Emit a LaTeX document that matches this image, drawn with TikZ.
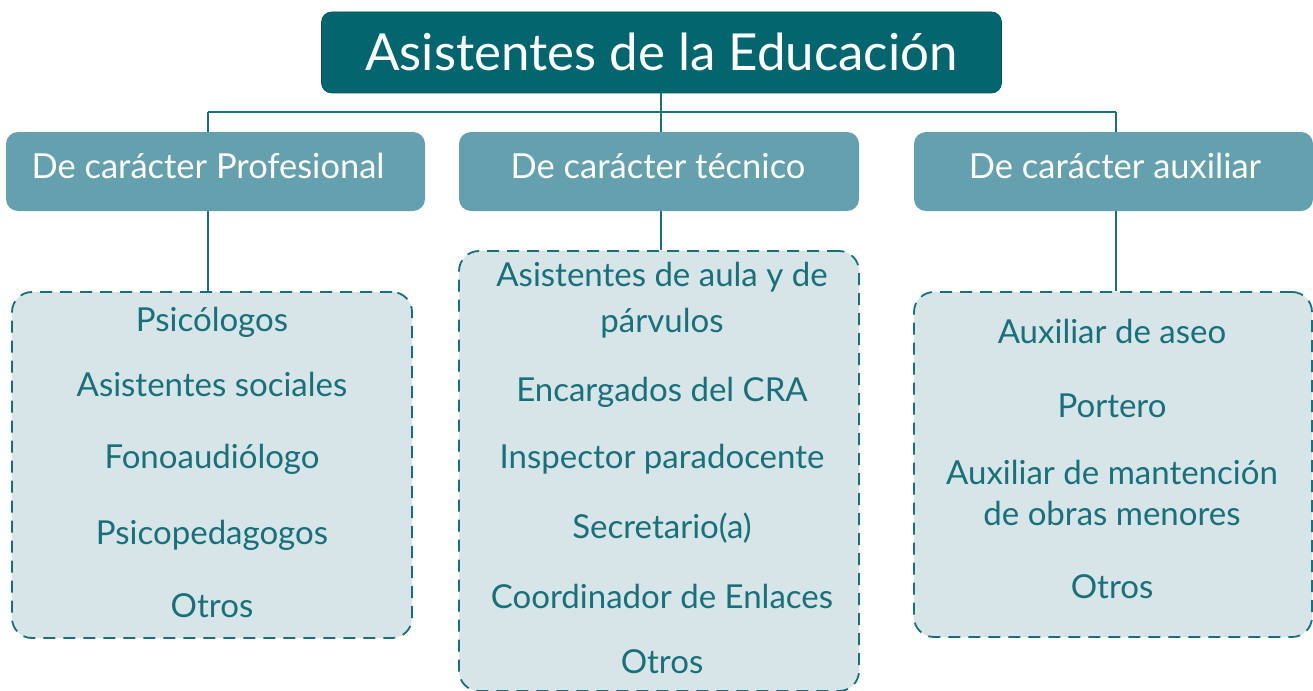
\documentclass[tikz,border=0pt]{standalone}
\usepackage{fontspec}
\setmainfont{Lato}
\definecolor{darkteal}{HTML}{03666F}
\definecolor{midteal}{HTML}{64A0AD}
\definecolor{paleteal}{HTML}{D7E4E8}
\definecolor{inkteal}{HTML}{17707A}
\begin{document}
\begin{tikzpicture}[x=1pt,y=-1pt,
  titlebox/.style={rectangle,rounded corners=10pt,fill=darkteal,draw=darkteal!80!black,line width=0.6pt,minimum width=680pt,minimum height=81pt},
  catbox/.style={rectangle,rounded corners=12pt,fill=midteal,minimum width=400pt,minimum height=79pt},
  listbox/.style={rectangle,rounded corners=20pt,fill=paleteal,draw=inkteal,line width=1.8pt,dash pattern=on 12pt off 8pt,minimum width=400pt},
  titletext/.style={text=white,font=\fontsize{51}{56}\selectfont,inner sep=0pt},
  cattext/.style={text=white,font=\fontsize{34.5}{40}\selectfont,inner sep=0pt},
  item/.style={text=inkteal,font=\fontsize{33}{40}\selectfont,align=center,inner sep=0pt},
  link/.style={draw=inkteal,line width=1.3pt}]
\path[use as bounding box] (0,0) rectangle (1313,690);
% boxes
\node[titlebox] (title) at (661.5,52.5) {};
\node[catbox,minimum width=419pt] (cp) at (215.5,171.5) {};
\node[catbox] (ct) at (659,171.5) {};
\node[catbox,minimum width=399pt] (ca) at (1113.5,171.5) {};
\node[listbox,minimum height=346pt] (lp) at (212,465) {};
\node[listbox,minimum height=440pt] (lt) at (659,471) {};
\node[listbox,minimum width=398pt,minimum height=345pt] (la) at (1113,464.5) {};
% headings
\node[titletext] (titlet) at (661.5,52) {Asistentes de la Educación};
\node[cattext] (cpt) at (208,166) {De carácter Profesional};
\node[cattext] (ctt) at (658,166) {De carácter técnico};
\node[cattext] (cat) at (1115,166) {De carácter auxiliar};
% items
\node[item] (p1) at (212,322) {Psicólogos};
\node[item] (p2) at (212,384) {Asistentes sociales};
\node[item] (p3) at (212,459) {Fonoaudiólogo};
\node[item] (p4) at (212,535) {Psicopedagogos};
\node[item] (p5) at (212,606) {Otros};
\node[item,font=\fontsize{33}{46}\selectfont] (t1) at (662,300) {Asistentes de aula y de\\ párvulos};
\node[item] (t2) at (662,392) {Encargados del CRA};
\node[item] (t3) at (662,459) {Inspector paradocente};
\node[item] (t4) at (662,528) {Secretario(a)};
\node[item] (t5) at (662,596) {Coordinador de Enlaces};
\node[item] (t6) at (662,662) {Otros};
\node[item] (a1) at (1112,331) {Auxiliar de aseo};
\node[item] (a2) at (1112,406) {Portero};
\node[item,font=\fontsize{33}{41}\selectfont] (a3) at (1112,493) {Auxiliar de mantención\\ de obras menores};
\node[item] (a4) at (1112,587) {Otros};
% connectors
\coordinate (hub) at (661,112);
\coordinate (hl) at (208,112);
\coordinate (hr) at (1116,112);
\draw[link] (title.south -| hub) -- (hub) -- (ct.north -| hub);
\draw[link] (hl) -- (hr);
\draw[link] (hl) -- (cp.north -| hl);
\draw[link] (hr) -- (ca.north -| hr);
\draw[link] (cp.south -| hl) -- (lp.north -| hl);
\draw[link] (ct.south -| hub) -- (lt.north -| hub);
\draw[link] (ca.south -| hr) -- (la.north -| hr);
\end{tikzpicture}
\end{document}
